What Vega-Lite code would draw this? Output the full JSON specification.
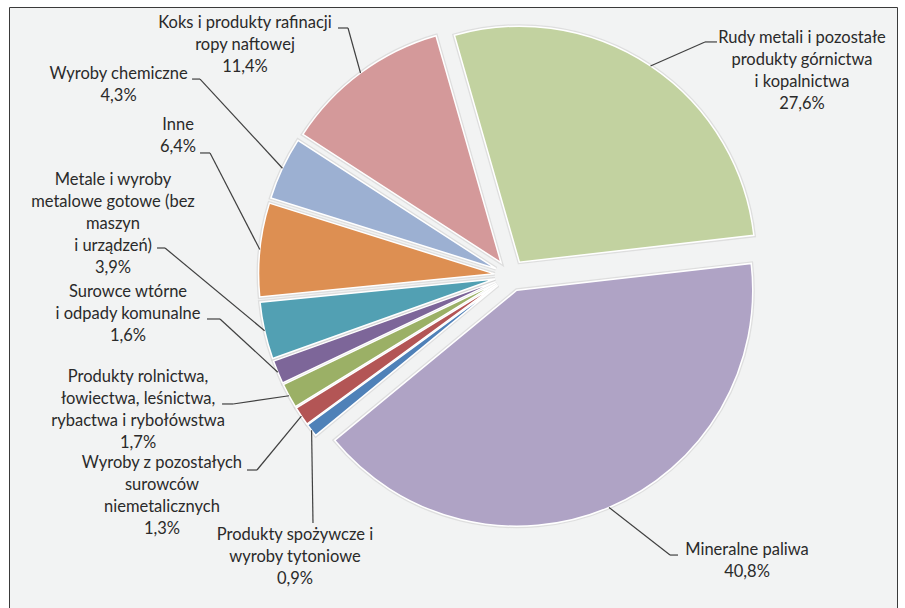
{
  "$schema": "https://vega.github.io/schema/vega-lite/v6.json",
  "width": 888,
  "height": 601,
  "padding": {"left": 9, "top": 7, "right": 8, "bottom": 0},
  "autosize": {"type": "none"},
  "background": "white",
  "config": {
    "view": {"fill": "#F2F3F3", "stroke": "#3a3a3a", "strokeWidth": 1},
    "rule": {"color": "#404040", "strokeWidth": 1.2},
    "text": {"font": "Lato", "fontSize": 16.5, "color": "#2a2a2a", "align": "center", "baseline": "middle", "lineHeight": 22}
  },
  "data": {
    "values": [
      {"order": 1, "cat": "Produkty spożywcze i wyroby tytoniowe", "value": 0.9, "label": ["Produkty spożywcze i", "wyroby tytoniowe", "0,9%"]},
      {"order": 2, "cat": "Wyroby z pozostałych surowców niemetalicznych", "value": 1.3, "label": ["Wyroby z pozostałych", "surowców", "niemetalicznych", "1,3%"]},
      {"order": 3, "cat": "Produkty rolnictwa, łowiectwa, leśnictwa, rybactwa i rybołówstwa", "value": 1.7, "label": ["Produkty rolnictwa,", "łowiectwa, leśnictwa,", "rybactwa i rybołówstwa", "1,7%"]},
      {"order": 4, "cat": "Surowce wtórne i odpady komunalne", "value": 1.6, "label": ["Surowce wtórne", "i odpady komunalne", "1,6%"]},
      {"order": 5, "cat": "Metale i wyroby metalowe gotowe (bez maszyn i urządzeń)", "value": 3.9, "label": ["Metale i wyroby", "metalowe gotowe (bez", "maszyn", "i urządzeń)", "3,9%"]},
      {"order": 6, "cat": "Inne", "value": 6.4, "label": ["Inne", "6,4%"]},
      {"order": 7, "cat": "Wyroby chemiczne", "value": 4.3, "label": ["Wyroby chemiczne", "4,3%"]},
      {"order": 8, "cat": "Koks i produkty rafinacji ropy naftowej", "value": 11.4, "label": ["Koks i produkty rafinacji", "ropy naftowej", "11,4%"]},
      {"order": 9, "cat": "Rudy metali i pozostałe produkty górnictwa i kopalnictwa", "value": 27.6, "label": ["Rudy metali i pozostałe", "produkty górnictwa", "i kopalnictwa", "27,6%"]},
      {"order": 10, "cat": "Mineralne paliwa", "value": 40.8, "label": ["Mineralne paliwa", "40,8%"]}
    ]
  },
  "transform": [
    {"joinaggregate": [{"op": "sum", "field": "value", "as": "total"}]},
    {"window": [{"op": "sum", "field": "value", "as": "cum"}], "sort": [{"field": "order"}], "frame": [null, 0]},
    {"calculate": "4.02298 + 2 * PI * (datum.cum - datum.value) / datum.total", "as": "t0"},
    {"calculate": "4.02298 + 2 * PI * datum.cum / datum.total", "as": "t1"},
    {"calculate": "(datum.t0 + datum.t1) / 2", "as": "tm"},
    {"calculate": "0.0678 * sin(datum.tm)", "as": "ex"},
    {"calculate": "0.0678 * cos(datum.tm)", "as": "ey"},
    {"calculate": "1.0678 * sin(datum.tm)", "as": "lx"},
    {"calculate": "1.0678 * cos(datum.tm)", "as": "ly"}
  ],
  "encoding": {
    "x": {"field": "lx", "type": "quantitative", "scale": {"domain": [-2.125, 1.6377], "nice": false, "zero": false}, "axis": null},
    "y": {"field": "ly", "type": "quantitative", "scale": {"domain": [-1.4089, 1.1377], "nice": false, "zero": false}, "axis": null}
  },
  "layer": [
    {
      "mark": {"type": "arc", "outerRadius": 236, "stroke": "#d0d0d0", "strokeWidth": 4, "strokeOpacity": 0.6},
      "encoding": {
        "theta": {"field": "t0", "type": "quantitative", "scale": null, "stack": null},
        "theta2": {"field": "t1"},
        "x": {"field": "ex", "type": "quantitative", "scale": {"domain": [-2.125, 1.6377], "nice": false, "zero": false}, "axis": null},
        "y": {"field": "ey", "type": "quantitative", "scale": {"domain": [-1.4089, 1.1377], "nice": false, "zero": false}, "axis": null},
        "color": {"field": "cat", "type": "nominal", "legend": null,
          "scale": {
            "domain": ["Produkty spożywcze i wyroby tytoniowe", "Wyroby z pozostałych surowców niemetalicznych", "Produkty rolnictwa, łowiectwa, leśnictwa, rybactwa i rybołówstwa", "Surowce wtórne i odpady komunalne", "Metale i wyroby metalowe gotowe (bez maszyn i urządzeń)", "Inne", "Wyroby chemiczne", "Koks i produkty rafinacji ropy naftowej", "Rudy metali i pozostałe produkty górnictwa i kopalnictwa", "Mineralne paliwa"],
            "range": ["#4F81B8", "#B35555", "#9BB066", "#7D6699", "#52A0B3", "#DD8F52", "#9CB0D2", "#D4999A", "#C2D2A0", "#AFA3C5"]
          }}
      }
    },
    {
      "mark": {"type": "arc", "outerRadius": 236, "stroke": "white", "strokeWidth": 1.5},
      "encoding": {
        "theta": {"field": "t0", "type": "quantitative", "scale": null, "stack": null},
        "theta2": {"field": "t1"},
        "x": {"field": "ex", "type": "quantitative", "scale": {"domain": [-2.125, 1.6377], "nice": false, "zero": false}, "axis": null},
        "y": {"field": "ey", "type": "quantitative", "scale": {"domain": [-1.4089, 1.1377], "nice": false, "zero": false}, "axis": null},
        "color": {"field": "cat", "type": "nominal", "legend": null}
      }
    },
    {
      "transform": [{"filter": "datum.order === 1"}],
      "layer": [
        {"mark": {"type": "rule", "x2Offset": 1.4, "y2Offset": 92.7}, "encoding": {"x2": {"field": "lx"}, "y2": {"field": "ly"}}},
        {"mark": {"type": "text", "dx": -16.6, "dy": 104.7}, "encoding": {"text": {"field": "label"}}}
      ]
    },
    {
      "transform": [{"filter": "datum.order === 2"}],
      "layer": [
        {"mark": {"type": "rule", "x2Offset": -44.4, "y2Offset": 53.9}, "encoding": {"x2": {"field": "lx"}, "y2": {"field": "ly"}}},
        {"mark": {"type": "rule", "xOffset": -44.4, "yOffset": 53.9, "x2Offset": -54.4, "y2Offset": 53.9}, "encoding": {"x2": {"field": "lx"}, "y2": {"field": "ly"}}},
        {"mark": {"type": "text", "dx": -139.4, "dy": 46.9}, "encoding": {"text": {"field": "label"}}}
      ]
    },
    {
      "transform": [{"filter": "datum.order === 3"}],
      "layer": [
        {"mark": {"type": "rule", "x2Offset": -56, "y2Offset": 8.2}, "encoding": {"x2": {"field": "lx"}, "y2": {"field": "ly"}}},
        {"mark": {"type": "rule", "xOffset": -56, "yOffset": 8.2, "x2Offset": -67, "y2Offset": 8.2}, "encoding": {"x2": {"field": "lx"}, "y2": {"field": "ly"}}},
        {"mark": {"type": "text", "dx": -151, "dy": -18.8}, "encoding": {"text": {"field": "label"}}}
      ]
    },
    {
      "transform": [{"filter": "datum.order === 4"}],
      "layer": [
        {"mark": {"type": "rule", "x2Offset": -57.8, "y2Offset": -53.2}, "encoding": {"x2": {"field": "lx"}, "y2": {"field": "ly"}}},
        {"mark": {"type": "rule", "xOffset": -57.8, "yOffset": -53.2, "x2Offset": -70.8, "y2Offset": -53.2}, "encoding": {"x2": {"field": "lx"}, "y2": {"field": "ly"}}},
        {"mark": {"type": "text", "dx": -149.8, "dy": -80.2}, "encoding": {"text": {"field": "label"}}}
      ]
    },
    {
      "transform": [{"filter": "datum.order === 5"}],
      "layer": [
        {"mark": {"type": "rule", "x2Offset": -99.6, "y2Offset": -82.7}, "encoding": {"x2": {"field": "lx"}, "y2": {"field": "ly"}}},
        {"mark": {"type": "rule", "xOffset": -99.6, "yOffset": -82.7, "x2Offset": -107.6, "y2Offset": -82.7}, "encoding": {"x2": {"field": "lx"}, "y2": {"field": "ly"}}},
        {"mark": {"type": "text", "dx": -151.6, "dy": -150.7}, "encoding": {"text": {"field": "label"}}}
      ]
    },
    {
      "transform": [{"filter": "datum.order === 6"}],
      "layer": [
        {"mark": {"type": "rule", "x2Offset": -49.8, "y2Offset": -96.6}, "encoding": {"x2": {"field": "lx"}, "y2": {"field": "ly"}}},
        {"mark": {"type": "rule", "xOffset": -49.8, "yOffset": -96.6, "x2Offset": -59.8, "y2Offset": -96.6}, "encoding": {"x2": {"field": "lx"}, "y2": {"field": "ly"}}},
        {"mark": {"type": "text", "dx": -81.8, "dy": -124.6}, "encoding": {"text": {"field": "label"}}}
      ]
    },
    {
      "transform": [{"filter": "datum.order === 7"}],
      "layer": [
        {"mark": {"type": "rule", "x2Offset": -82.4, "y2Offset": -89.2}, "encoding": {"x2": {"field": "lx"}, "y2": {"field": "ly"}}},
        {"mark": {"type": "rule", "xOffset": -82.4, "yOffset": -89.2, "x2Offset": -90.4, "y2Offset": -89.2}, "encoding": {"x2": {"field": "lx"}, "y2": {"field": "ly"}}},
        {"mark": {"type": "text", "dx": -163.9, "dy": -94.2}, "encoding": {"text": {"field": "label"}}}
      ]
    },
    {
      "transform": [{"filter": "datum.order === 8"}],
      "layer": [
        {"mark": {"type": "rule", "x2Offset": -12.5, "y2Offset": -45}, "encoding": {"x2": {"field": "lx"}, "y2": {"field": "ly"}}},
        {"mark": {"type": "rule", "xOffset": -12.5, "yOffset": -45, "x2Offset": -22.5, "y2Offset": -45}, "encoding": {"x2": {"field": "lx"}, "y2": {"field": "ly"}}},
        {"mark": {"type": "text", "dx": -115.5, "dy": -50}, "encoding": {"text": {"field": "label"}}}
      ]
    },
    {
      "transform": [{"filter": "datum.order === 9"}],
      "layer": [
        {"mark": {"type": "rule", "x2Offset": 54.5, "y2Offset": -24}, "encoding": {"x2": {"field": "lx"}, "y2": {"field": "ly"}}},
        {"mark": {"type": "rule", "xOffset": 54.5, "yOffset": -24, "x2Offset": 66.5, "y2Offset": -24}, "encoding": {"x2": {"field": "lx"}, "y2": {"field": "ly"}}},
        {"mark": {"type": "text", "dx": 151.5, "dy": -28}, "encoding": {"text": {"field": "label"}}}
      ]
    },
    {
      "transform": [{"filter": "datum.order === 10"}],
      "layer": [
        {"mark": {"type": "rule", "x2Offset": 61, "y2Offset": 47.6}, "encoding": {"x2": {"field": "lx"}, "y2": {"field": "ly"}}},
        {"mark": {"type": "rule", "xOffset": 61, "yOffset": 47.6, "x2Offset": 69, "y2Offset": 47.6}, "encoding": {"x2": {"field": "lx"}, "y2": {"field": "ly"}}},
        {"mark": {"type": "text", "dx": 138, "dy": 42.6}, "encoding": {"text": {"field": "label"}}}
      ]
    }
  ]
}
